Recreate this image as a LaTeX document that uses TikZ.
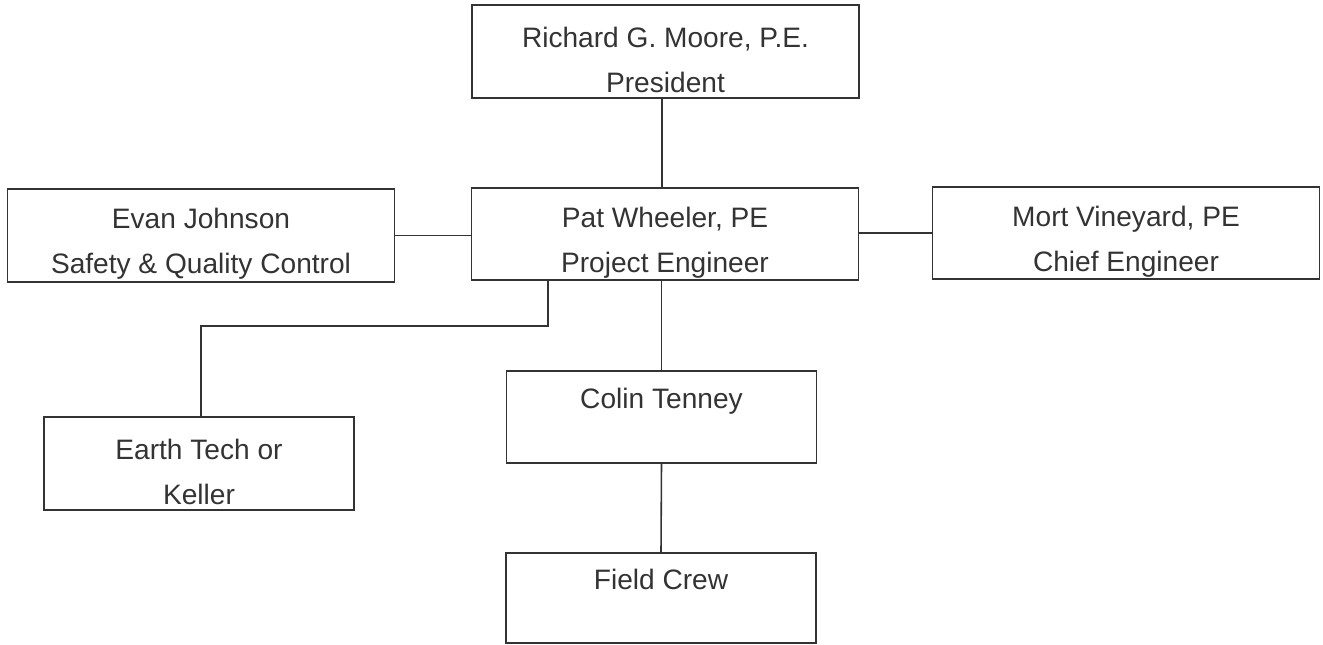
\documentclass[tikz,border=0pt]{standalone}
\usepackage{fontspec}
\setmainfont{Liberation Sans}
\usetikzlibrary{positioning,calc}
\definecolor{inkGray}{HTML}{333333}
\newcommand{\liftgap}{\rule{0pt}{21pt}}
\newcommand{\lonegap}{\rule{0pt}{16pt}}

\begin{document}
\begin{tikzpicture}[
  x=0.02cm, y=-0.02cm,
  box/.style={draw=inkGray, line width=0.9pt, minimum height=1.85cm, align=center, text=inkGray, inner sep=0pt, font=\fontsize{16}{25.6}\selectfont},
  wide/.style={box, minimum width=7.74cm},
  narrow/.style={box, minimum width=6.2cm},
  link/.style={draw=inkGray, line width=0.9pt}
]
\useasboundingbox (0,0) rectangle (1323,645);
% top of the chart
\node[wide] (pres) at (665.5,51.5) {\liftgap Richard G. Moore, P.E.\\President};
\node[wide] (pat) at (665,234) {\liftgap Pat Wheeler, PE\\Project Engineer};
\node[wide] (evan) at (201,235.5) {\liftgap Evan Johnson\\Safety \& Quality Control};
\node[wide] (mort) at (1126,233) {\liftgap Mort Vineyard, PE\\Chief Engineer};
% lower boxes
\node[narrow] (colin) at (661.5,417) {\lonegap Colin Tenney\\\mbox{}};
\node[narrow] (earth) at (199,463.5) {\liftgap Earth Tech or\\Keller};
\node[narrow, minimum height=1.8cm] (crew) at (661,598) {\lonegap Field Crew\\\mbox{}};
\coordinate (tap) at (548,280);
\draw[link] (pres.south -| 662,0) -- (pat.north -| 662,0);
\draw[link] (evan.east) -- (evan.east -| pat.west);
\draw[link] (mort.west |- 0,233) -- (pat.east |- 0,233);
\draw[link] (pat.south -| colin) -- (colin.north);
\draw[link] (colin.south) -- (crew.north);
\draw[link] (tap) -- ++(0,46) -| ([xshift=0.04cm]earth.north);
\end{tikzpicture}
\end{document}
